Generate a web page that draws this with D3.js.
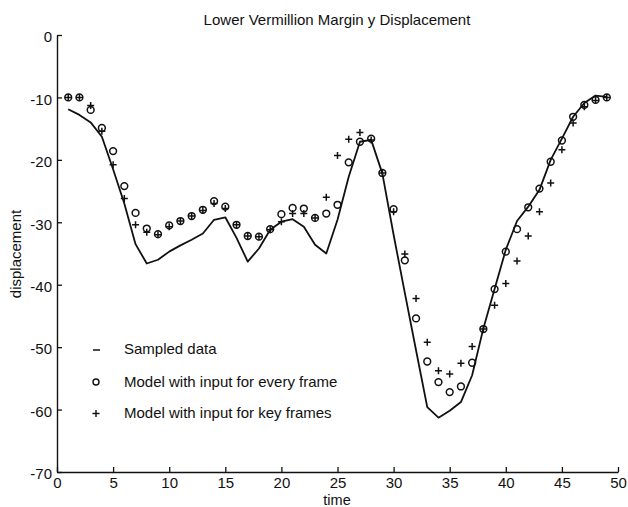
<!DOCTYPE html>
<html><head><meta charset="utf-8">
<script src="https://cdn.jsdelivr.net/npm/d3@7"></script>
<style>
body{margin:0;background:#fff;}
svg{display:block;}
text{font-family:"Liberation Sans",Arial,Helvetica,sans-serif;fill:#111;}
</style></head>
<body>
<svg id="chart" width="628" height="507"></svg>
<script>
const title = "Lower Vermillion Margin y Displacement";
const xLabel = "time";
const yLabel = "displacement";
const times = [1,2,3,4,5,6,7,8,9,10,11,12,13,14,15,16,17,18,19,20,21,22,23,24,25,26,27,28,29,30,31,32,33,34,35,36,37,38,39,40,41,42,43,44,45,46,47,48,49];
const sampled = [-11.9,-12.8,-14.0,-16.3,-21.5,-27.0,-33.5,-36.6,-36.0,-34.7,-33.7,-32.8,-31.8,-29.6,-29.2,-32.5,-36.3,-34.2,-31.2,-29.9,-29.5,-30.7,-33.6,-35.0,-29.6,-22.7,-17.1,-16.8,-22.2,-32.0,-41.3,-50.5,-59.6,-61.3,-60.2,-58.8,-54.5,-47.0,-40.7,-34.4,-29.8,-27.5,-24.8,-20.0,-16.6,-13.1,-10.9,-9.7,-9.9];
const everyFrame = [-10,-10,-12,-14.9,-18.6,-24.2,-28.5,-31.0,-31.9,-30.5,-29.8,-29.0,-28.0,-26.6,-27.5,-30.4,-32.2,-32.3,-31.1,-28.7,-27.7,-27.8,-29.3,-28.6,-27.2,-20.4,-17.1,-16.6,-22.1,-27.9,-36.1,-45.4,-52.3,-55.6,-57.2,-56.3,-52.5,-47.1,-40.7,-34.7,-31.1,-27.6,-24.6,-20.3,-16.9,-13.1,-11.2,-10.4,-10.0];
const keyFrames = [-10,-10,-11.3,-15.4,-20.8,-26.2,-30.4,-31.6,-32,-30.7,-29.8,-29,-28.1,-27,-27.8,-30.4,-32.2,-32.3,-31.2,-29.9,-28.6,-28.6,-29.3,-26.0,-19.3,-16.7,-15.6,-16.8,-22.1,-28.3,-35.1,-42.2,-49.2,-53.8,-54.3,-52.6,-49.9,-47.1,-43.3,-39.8,-36.2,-32.2,-28.3,-23.7,-18.4,-14.1,-11.5,-10.5,-10.0];
const xTicks = [0,5,10,15,20,25,30,35,40,45,50];
const yTicks = [0,-10,-20,-30,-40,-50,-60,-70];
const legendLabels = ["Sampled data","Model with input for every frame","Model with input for key frames"];

const svg = d3.select("#chart");
const x = d3.scaleLinear().domain([0,50]).range([57,618]);
const y = d3.scaleLinear().domain([-70,0]).range([472,35]);
const ink = "#111";
const fmt = d => String(d).replace("\u2212","-");

// axes
const gx = svg.append("g").attr("transform","translate(0,472)")
  .call(d3.axisBottom(x).tickValues(xTicks).tickSizeInner(-5).tickSizeOuter(0).tickPadding(5).tickFormat(fmt));
const gy = svg.append("g").attr("transform","translate(57,0)")
  .call(d3.axisLeft(y).tickValues(yTicks).tickSizeInner(-5).tickSizeOuter(0).tickPadding(5).tickFormat(fmt));
[gx,gy].forEach(g=>{
  g.selectAll("path.domain").attr("stroke",ink).attr("stroke-width",1.4);
  g.selectAll(".tick line").attr("stroke",ink).attr("stroke-width",1.3);
  g.selectAll(".tick text").attr("font-size",15).attr("fill",ink)
   .attr("font-family","'Liberation Sans',Arial,Helvetica,sans-serif");
});
gy.selectAll(".tick text").attr("dy","0.45em");

// titles
svg.append("text").attr("x",337).attr("y",25).attr("text-anchor","middle").attr("font-size",15).text(title);
svg.append("text").attr("x",337).attr("y",505).attr("text-anchor","middle").attr("font-size",14.5).text(xLabel);
svg.append("text").attr("transform","translate(21,254) rotate(-90)").attr("text-anchor","middle").attr("font-size",15).text(yLabel);

// sampled line
const line = d3.line().x((d,i)=>x(times[i])).y(d=>y(d));
svg.append("path").datum(sampled).attr("d",line).attr("fill","none").attr("stroke",ink).attr("stroke-width",1.8).attr("stroke-linejoin","round");

// circles
svg.append("g").selectAll("circle").data(everyFrame).join("circle")
  .attr("cx",(d,i)=>x(times[i])).attr("cy",d=>y(d)).attr("r",3.4)
  .attr("fill","none").attr("stroke",ink).attr("stroke-width",1.5);

// pluses
const pg = svg.append("g");
pg.selectAll("path").data(keyFrames).join("path")
  .attr("d",(d,i)=>{const cx=x(times[i]), cy=y(d), a=3.5; return `M${cx-a},${cy}H${cx+a}M${cx},${cy-a}V${cy+a}`;})
  .attr("fill","none").attr("stroke",ink).attr("stroke-width",1.5);

// legend
const lg = svg.append("g");
lg.append("line").attr("x1",93).attr("x2",100).attr("y1",350).attr("y2",350).attr("stroke",ink).attr("stroke-width",1.5);
lg.append("circle").attr("cx",96).attr("cy",382).attr("r",3).attr("fill","none").attr("stroke",ink).attr("stroke-width",1.4);
lg.append("path").attr("d","M92.5,413.5H99.5M96,410V417").attr("stroke",ink).attr("stroke-width",1.4);
legendLabels.forEach((t,i)=>{
  lg.append("text").attr("x",124).attr("y",[354,387,418][i]).attr("font-size",15).text(t);
});
</script>
</body></html>
